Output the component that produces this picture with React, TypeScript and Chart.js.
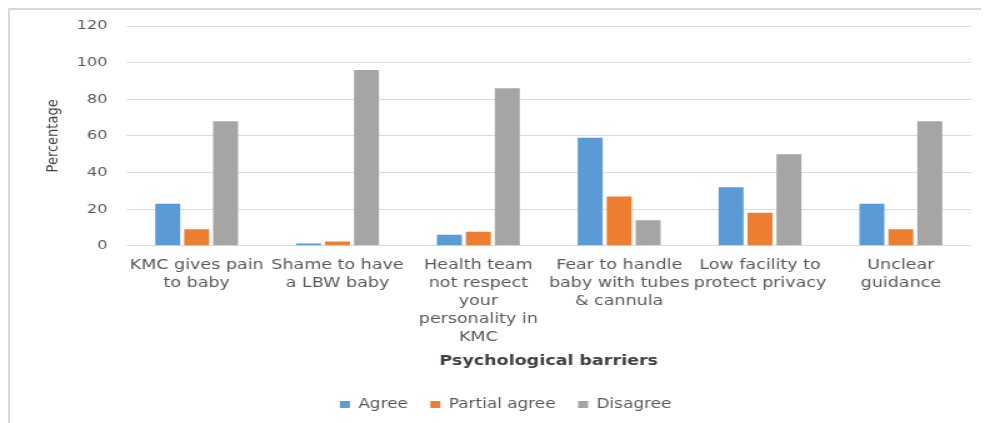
import React, { useEffect, useRef } from 'react';
import { Chart, registerables } from 'chart.js';

Chart.register(...registerables);

// ---- data ----
const categories: string[][] = [
  ['KMC gives pain', 'to baby'],
  ['Shame to have', 'a LBW baby'],
  ['Health team', 'not respect', 'your', 'personality in', 'KMC'],
  ['Fear to handle', 'baby with tubes', '& cannula'],
  ['Low facility to', 'protect privacy'],
  ['Unclear', 'guidance'],
];
const agree = [23, 1.3, 6, 59, 32, 23];
const partialAgree = [9, 2.4, 7.7, 27, 18, 9];
const disagree = [68, 96, 86, 14, 50, 68];
const seriesNames = ['Agree', 'Partial agree', 'Disagree'];
const yMin = 0;
const yMax = 120;
const yStep = 20;
const xTitle = 'Psychological barriers';
const yTitle = 'Percentage';

// ---- styles ----
const COLORS = ['#5B9BD5', '#ED7D31', '#A5A5A5'];
const STRETCH = 1.25;
const FONT = "'DejaVu Sans', sans-serif";

export default function App() {
  const ref = useRef<HTMLCanvasElement | null>(null);

  useEffect(() => {
    document.documentElement.style.overflow = 'hidden';
    const canvas = ref.current;
    if (!canvas) return;
    const chart = new Chart(canvas, {
      type: 'bar',
      data: {
        labels: categories,
        datasets: [agree, partialAgree, disagree].map((d, i) => ({
          label: seriesNames[i],
          data: d,
          backgroundColor: COLORS[i],
          borderWidth: 0,
          categoryPercentage: 0.617,
          barPercentage: 0.862,
        })),
      },
      options: {
        animation: false,
        responsive: false,
        maintainAspectRatio: false,
        devicePixelRatio: 1,
        layout: { padding: { top: 16, right: 14, left: 24, bottom: 6.75 } },
        plugins: {
          legend: {
            position: 'bottom',
            labels: {
              boxWidth: 8,
              boxHeight: 7,
              padding: 18,
              color: '#595959',
              font: { family: FONT, size: 13.5 },
            },
          },
          tooltip: { enabled: false },
        },
        scales: {
          x: {
            grid: { display: false, drawTicks: false },
            border: { display: false },
            ticks: {
              color: '#595959',
              padding: 11,
              maxRotation: 0,
              autoSkip: false,
              font: { family: FONT, size: 14, lineHeight: 18 / 14 },
            },
            title: {
              display: true,
              text: xTitle,
              color: '#404040',
              font: { family: FONT, size: 14, weight: 'bold', lineHeight: 1.2 },
              padding: { top: -4.4, bottom: 9.5 },
            },
          },
          y: {
            min: yMin,
            max: yMax,
            ticks: {
              stepSize: yStep,
              color: '#595959',
              padding: 15,
              font: { family: FONT, size: 13 },
            },
            grid: { color: '#dcdcdc', lineWidth: 1, drawTicks: false },
            border: { display: false },
            title: {
              display: true,
              text: yTitle,
              color: '#404040',
              font: { family: FONT, size: 13, lineHeight: 1.2 },
              padding: { top: 2.6, bottom: 0 },
            },
            afterFit: (s: any) => {
              s.width = 69;
              s.paddingTop = 0;
              s.paddingBottom = 0;
            },
          },
        },
      },
    });
    return () => chart.destroy();
  }, []);

  return (
    <div
      style={{
        width: 981,
        height: 415,
        boxSizing: 'border-box',
        borderTop: '2px solid #d9d9d9',
        borderLeft: '2px solid #d9d9d9',
        overflow: 'hidden',
        background: '#fff',
      }}
    >
      <canvas
        ref={ref}
        width={783}
        height={418}
        style={{
          display: 'block',
          width: '783px',
          height: '418px',
          transform: `scaleX(${STRETCH})`,
          transformOrigin: 'left top',
        }}
      />
    </div>
  );
}
